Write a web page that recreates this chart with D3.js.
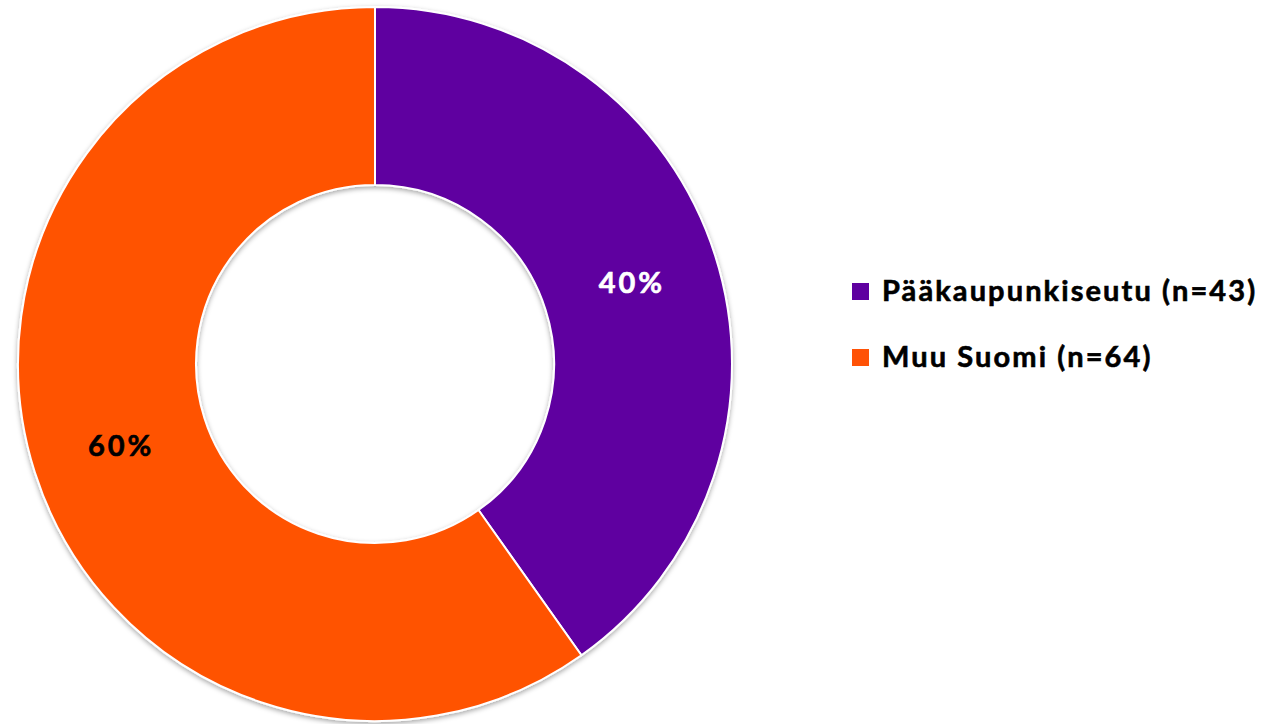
<!DOCTYPE html>
<html>
<head>
<meta charset="utf-8">
<script src="https://cdn.jsdelivr.net/npm/d3@7"></script>
<style>
  body { margin: 0; background: #fff; }
  svg { display: block; font-family: Lato, "Open Sans", sans-serif; }
</style>
</head>
<body>
<div id="chart"></div>
<script>
var categories = ['Pääkaupunkiseutu (n=43)', 'Muu Suomi (n=64)'];
var counts     = [43, 64];
var colors     = ['#5f00a0', '#ff5206'];
var labelColors = ['#ffffff', '#000000'];

function makeDonut() {
  const width = 1268, height = 724;
  const cx = 375, cy = 364;
  const outerR = 357, innerR = 179;

  var svg = d3.select('#chart').append('svg')
      .attr('width', width)
      .attr('height', height);

  var defs = svg.append('defs');
  var filt = defs.append('filter')
      .attr('id', 'shadow')
      .attr('x', '-10%').attr('y', '-10%')
      .attr('width', '120%').attr('height', '120%');
  filt.append('feDropShadow')
    .attr('dx', 0).attr('dy', 2)
    .attr('stdDeviation', 2.5)
    .attr('flood-color', '#000')
    .attr('flood-opacity', 0.35);

  var total = d3.sum(counts);
  var pie = d3.pie().sort(null).value(function (d) { return d; });
  var arc = d3.arc().innerRadius(innerR).outerRadius(outerR);

  var g = svg.append('g')
      .attr('transform', `translate(${cx}, ${cy})`);

  var slices = pie(counts);

  g.append('g')
    .attr('filter', 'url(#shadow)')
    .selectAll('path')
    .data(slices)
    .enter()
    .append('path')
    .attr('d', arc)
    .attr('fill', function (d, i) { return colors[i]; })
    .attr('stroke', '#fff')
    .attr('stroke-width', 2);

  g.selectAll('text.pct')
    .data(slices)
    .enter()
    .append('text')
    .attr('class', 'pct')
    .attr('transform', function (d) {
      var c = arc.centroid(d);
      return `translate(${c[0] + 1.5}, ${c[1]})`;
    })
    .attr('text-anchor', 'middle')
    .attr('dy', '0.36em')
    .style('font-size', '29px')
    .style('font-weight', 700)
    .style('letter-spacing', '3px')
    .attr('fill', function (d, i) { return labelColors[i]; })
    .attr('stroke', function (d, i) { return labelColors[i]; })
    .attr('stroke-width', 0.6)
    .text(function (d) { return Math.round(d.value / total * 100) + '%'; });

  // legend
  var legend = svg.append('g')
      .attr('transform', 'translate(852, 0)');

  var items = legend.selectAll('g')
      .data(categories)
      .enter()
      .append('g')
      .attr('transform', function (d, i) { return `translate(0, ${301 + i * 66})`; });

  items.append('rect')
    .attr('x', 0)
    .attr('y', -18)
    .attr('width', 17)
    .attr('height', 17)
    .attr('fill', function (d, i) { return colors[i]; });

  items.append('text')
    .attr('x', 30)
    .attr('y', 0)
    .style('font-size', '29px')
    .style('font-weight', 700)
    .style('letter-spacing', '2.1px')
    .attr('fill', '#000')
    .attr('stroke', '#000')
    .attr('stroke-width', 0.6)
    .text(function (d) { return d; });
}

makeDonut();
</script>
</body>
</html>
